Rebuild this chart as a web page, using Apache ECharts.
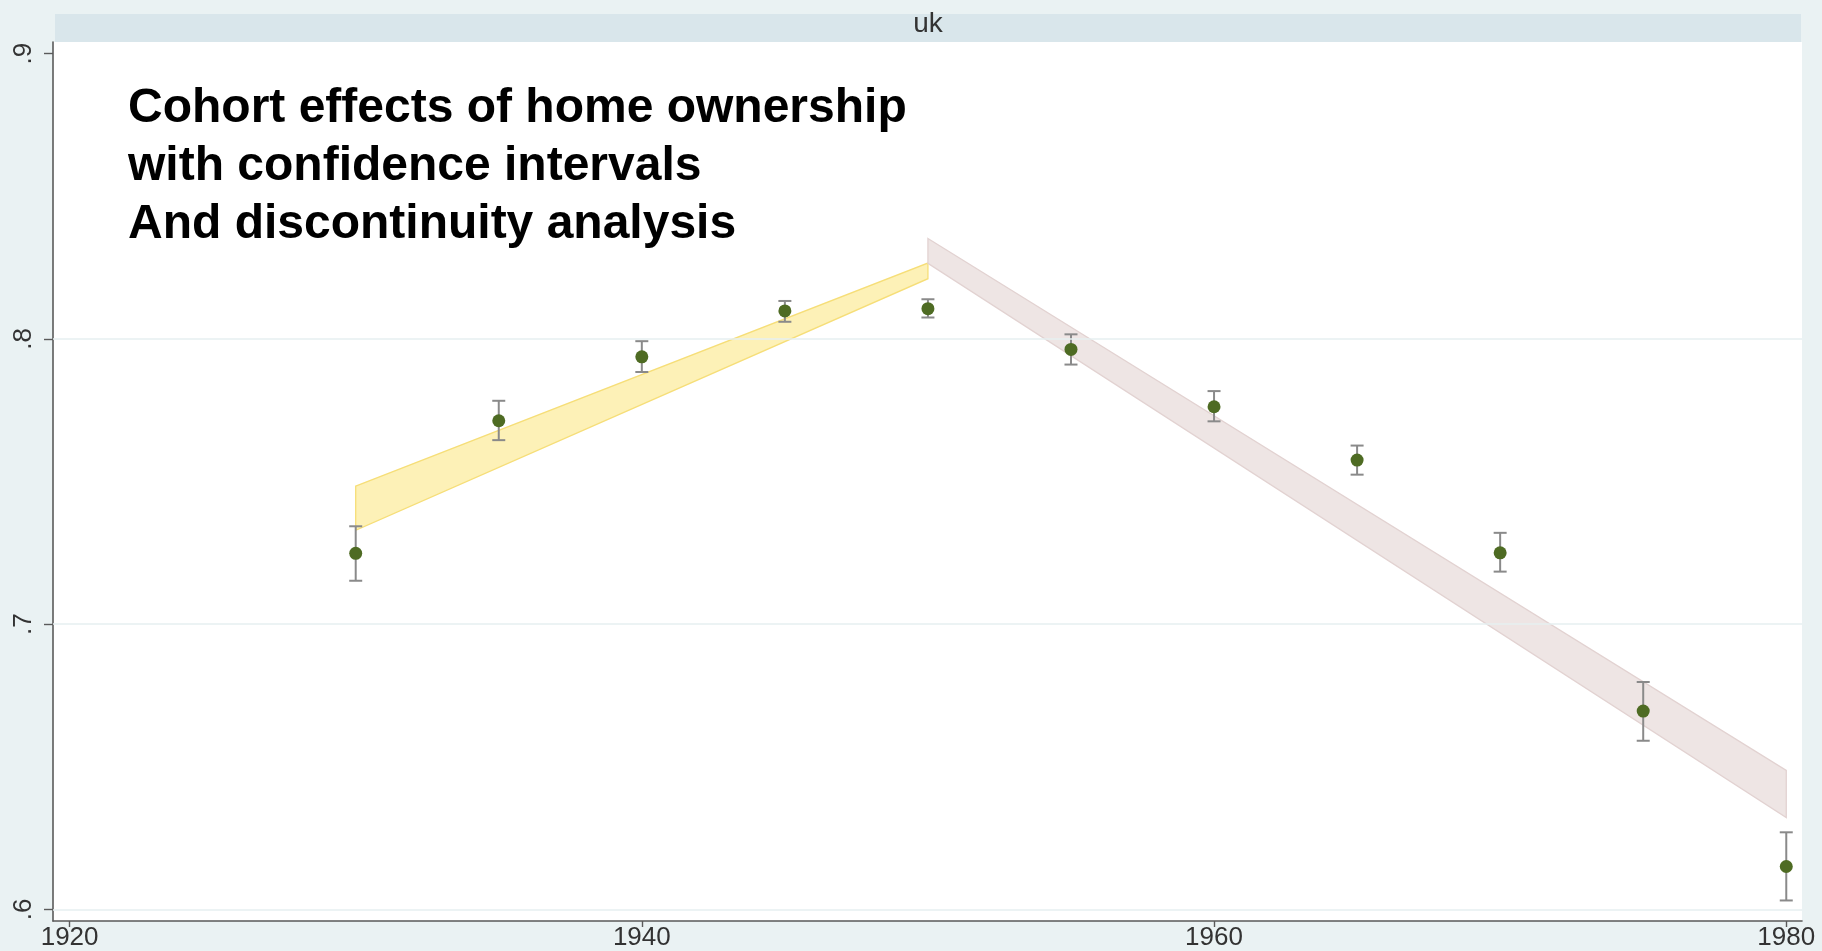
<!DOCTYPE html>
<html>
<head>
<meta charset="utf-8">
<script src="https://cdn.jsdelivr.net/npm/echarts@6/dist/echarts.min.js"></script>
<style>
html,body{margin:0;padding:0;background:#eaf2f3;}
#c{width:1822px;height:951px;}
</style>
</head>
<body>
<div id="c"></div>
<script>
// ---- data ----
const years = [1930, 1935, 1940, 1945, 1950, 1955, 1960, 1965, 1970, 1975, 1980];
const estimate = [0.7248, 0.7713, 0.7937, 0.8098, 0.8106, 0.7963, 0.7762, 0.7575, 0.7250, 0.6695, 0.6150];
const ciLow  = [0.7152, 0.7645, 0.7884, 0.8060, 0.8075, 0.7910, 0.7711, 0.7524, 0.7184, 0.6591, 0.6031];
const ciHigh = [0.7343, 0.7783, 0.7992, 0.8133, 0.8139, 0.8016, 0.7817, 0.7626, 0.7320, 0.6797, 0.6270];

const preX = [1930, 1950];
const preUpper = [0.7484, 0.8266];
const preLower = [0.7329, 0.8211];

const postX = [1950, 1980];
const postUpper = [0.8352, 0.6487];
const postLower = [0.8265, 0.6322];

const xTicks = [1920, 1940, 1960, 1980];
const xTickLabels = ['1920', '1940', '1960', '1980'];
const yTicks = [0.6, 0.7, 0.8, 0.9];
const yTickLabels = ['.6', '.7', '.8', '.9'];
const yGridLines = [0.6, 0.7, 0.8];

const panelLabel = 'uk';
const titleLines = ['Cohort effects of home ownership', 'with confidence intervals', 'And discontinuity analysis'];

// ---- build ----
function segments(xs, lo, hi) {
  const out = [];
  for (let i = 0; i < xs.length - 1; i++) {
    out.push([xs[i], lo[i], hi[i], xs[i + 1], lo[i + 1], hi[i + 1]]);
  }
  return out;
}
function bandRenderer(fill, stroke) {
  return function (params, api) {
    const a = api.coord([api.value(0), api.value(2)]);
    const b = api.coord([api.value(3), api.value(5)]);
    const c = api.coord([api.value(3), api.value(4)]);
    const d = api.coord([api.value(0), api.value(1)]);
    return {
      type: 'polygon',
      shape: { points: [a, b, c, d] },
      style: { fill: fill, stroke: stroke, lineWidth: 1.3 }
    };
  };
}

const errData = years.map((y, i) => [y, ciLow[i], ciHigh[i]]);
const ptData = years.map((y, i) => [y, estimate[i]]);

const GL = 53, GT = 42, GR = 1802, GB = 921;
const FONT = "'Liberation Sans', Arial, sans-serif";

const chart = echarts.init(document.getElementById('c'), null, { renderer: 'canvas' });
chart.setOption({
  backgroundColor: '#eaf2f3',
  animation: false,
  title: {
    text: titleLines.join('\n'),
    left: 128, top: 80, padding: 0,
    textStyle: { fontSize: 48, fontWeight: 'bold', fontFamily: FONT, color: '#000', lineHeight: 58 }
  },
  graphic: [
    { type: 'rect', left: 55, top: 14, shape: { width: 1746, height: 28 }, style: { fill: '#d9e6eb' }, z: 1 },
    { type: 'text', x: 928, y: 24, style: { text: panelLabel, fontSize: 28, fontFamily: FONT, fill: '#333', textAlign: 'center', textVerticalAlign: 'middle' }, z: 2 }
  ],
  grid: {
    left: GL, top: GT, width: GR - GL, height: GB - GT,
    show: true, backgroundColor: '#ffffff', borderWidth: 0
  },
  xAxis: {
    type: 'value', min: 1919.42, max: 1980.55,
    axisLine: { show: true, onZero: false, lineStyle: { color: '#5a5a5a', width: 1.6 } },
    axisTick: { show: true, length: 6, customValues: xTicks, lineStyle: { color: '#5a5a5a', width: 1.4 } },
    axisLabel: {
      customValues: xTicks, margin: 4, fontSize: 26, fontFamily: FONT, color: '#333',
      formatter: v => xTickLabels[xTicks.indexOf(Math.round(v))] ?? ''
    },
    splitLine: { show: false }
  },
  yAxis: {
    type: 'value', min: 0.5959, max: 0.9041,
    axisLine: { show: true, onZero: false, lineStyle: { color: '#5a5a5a', width: 1.6 } },
    axisTick: { show: true, length: 9, customValues: yTicks, lineStyle: { color: '#5a5a5a', width: 1.4 } },
    axisLabel: {
      customValues: yTicks, rotate: 90, margin: 16, fontSize: 26, fontFamily: FONT, color: '#333',
      formatter: v => {
        const i = yTicks.findIndex(t => Math.abs(t - v) < 1e-6);
        return i >= 0 ? yTickLabels[i] : '';
      }
    },
    splitLine: { show: false }
  },
  series: [
    {
      type: 'line', data: [], silent: true, z: 1,
      markLine: {
        silent: true, symbol: ['none', 'none'], label: { show: false },
        lineStyle: { color: '#e6eff1', width: 1.5, type: 'solid' },
        data: yGridLines.map(t => ({ yAxis: t }))
      }
    },
    {
      type: 'custom', name: 'pre', z: 2, silent: true,
      renderItem: bandRenderer('rgba(253,238,170,0.85)', '#f6de78'),
      encode: { x: [0, 3], y: [1, 2, 4, 5] },
      data: segments(preX, preLower, preUpper)
    },
    {
      type: 'custom', name: 'post', z: 2, silent: true,
      renderItem: bandRenderer('rgba(236,226,225,0.9)', '#e2d2d1'),
      encode: { x: [0, 3], y: [1, 2, 4, 5] },
      data: segments(postX, postLower, postUpper)
    },
    {
      type: 'custom', name: 'ci', z: 3, silent: true,
      renderItem: function (params, api) {
        const x = api.value(0);
        const lo = api.coord([x, api.value(1)]);
        const hi = api.coord([x, api.value(2)]);
        const hw = 6.5;
        const st = { stroke: '#8a8a8a', lineWidth: 2 };
        return {
          type: 'group',
          children: [
            { type: 'line', shape: { x1: lo[0], y1: lo[1], x2: hi[0], y2: hi[1] }, style: st },
            { type: 'line', shape: { x1: lo[0] - hw, y1: lo[1], x2: lo[0] + hw, y2: lo[1] }, style: st },
            { type: 'line', shape: { x1: hi[0] - hw, y1: hi[1], x2: hi[0] + hw, y2: hi[1] }, style: st }
          ]
        };
      },
      encode: { x: 0, y: [1, 2] },
      data: errData
    },
    {
      type: 'scatter', name: 'est', z: 4, silent: true,
      symbol: 'circle', symbolSize: 13,
      itemStyle: { color: '#4e6b23', opacity: 1 },
      data: ptData
    }
  ]
});
</script>
</body>
</html>
